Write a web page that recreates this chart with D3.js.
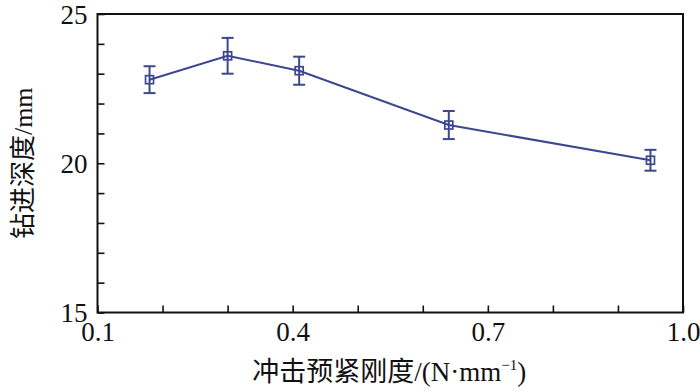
<!DOCTYPE html>
<html><head><meta charset="utf-8">
<script src="https://cdn.jsdelivr.net/npm/d3@7"></script>
<style>
html,body{margin:0;padding:0;background:#fff;}
svg{display:block;}
text{font-family:"Liberation Serif","Times New Roman","Noto Sans CJK SC",serif;fill:#111;}
</style></head>
<body>
<svg id="chart" width="700" height="391"></svg>
<script>
const stiffness = [0.18, 0.30, 0.41, 0.64, 0.95];
const depth     = [22.8, 23.6, 23.1, 21.28, 20.1];
const errors    = [0.45, 0.6, 0.47, 0.47, 0.35];
const xTicks = [0.1, 0.4, 0.7, 1.0];
const yTicks = [15, 20, 25];
const xMinor = [0.1,0.2,0.3,0.4,0.5,0.6,0.7,0.8,0.9,1.0];
const yMinor = [15,16,17,18,19,20,21,22,23,24,25];
const xTitle = "冲击预紧刚度/(N·mm";
const yTitle = "钻进深度/mm";

const W = 700, H = 391;
const m = {left: 97.5, top: 14, right: 700-683, bottom: 391-312.5};
const svg = d3.select("#chart");
const x = d3.scaleLinear().domain([0.1, 1.0]).range([m.left, W - m.right]);
const y = d3.scaleLinear().domain([15, 25]).range([H - m.bottom, m.top]);
const color = "#3c4790";

// frame
svg.append("rect").attr("x", x(0.1)).attr("y", y(25))
  .attr("width", x(1.0) - x(0.1)).attr("height", y(15) - y(25))
  .attr("fill", "none").attr("stroke", "#111").attr("stroke-width", 2);

// bottom axis (ticks inward)
const gx = svg.append("g").attr("transform", `translate(0,${y(15)})`)
  .call(d3.axisBottom(x).tickValues(xMinor).tickSize(-7).tickFormat(""));
gx.select(".domain").remove();
gx.selectAll("line").attr("stroke", "#111").attr("stroke-width", 1.6);
const gxl = svg.append("g").attr("transform", `translate(0,${y(15)})`)
  .call(d3.axisBottom(x).tickValues(xTicks).tickSize(0).tickPadding(9).tickFormat(d3.format(".1f")));
gxl.select(".domain").remove();
gxl.selectAll("text").attr("font-size", 27).attr("dy", "0.71em");

// left axis
const gy = svg.append("g").attr("transform", `translate(${x(0.1)},0)`)
  .call(d3.axisLeft(y).tickValues(yMinor).tickSize(-7).tickFormat(""));
gy.select(".domain").remove();
gy.selectAll("line").attr("stroke", "#111").attr("stroke-width", 1.6);
const gyl = svg.append("g").attr("transform", `translate(${x(0.1)},0)`)
  .call(d3.axisLeft(y).tickValues(yTicks).tickSize(0).tickPadding(10).tickFormat(d3.format("d")));
gyl.select(".domain").remove();
gyl.selectAll("text").attr("font-size", 27).attr("dy", "0.34em");

// line
const data = stiffness.map((s, i) => ({x: s, y: depth[i], e: errors[i]}));
svg.append("path").datum(data)
  .attr("d", d3.line().x(d => x(d.x)).y(d => y(d.y)))
  .attr("fill", "none").attr("stroke", color).attr("stroke-width", 2);

// error bars
const eb = svg.append("g").attr("stroke", color).attr("stroke-width", 2).attr("fill", "none");
const cap = 6;
data.forEach(d => {
  const cx = x(d.x);
  eb.append("line").attr("x1", cx).attr("x2", cx).attr("y1", y(d.y + d.e)).attr("y2", y(d.y - d.e));
  eb.append("line").attr("x1", cx - cap).attr("x2", cx + cap).attr("y1", y(d.y + d.e)).attr("y2", y(d.y + d.e));
  eb.append("line").attr("x1", cx - cap).attr("x2", cx + cap).attr("y1", y(d.y - d.e)).attr("y2", y(d.y - d.e));
  const s = 8;
  eb.append("rect").attr("x", cx - s/2).attr("y", y(d.y) - s/2).attr("width", s).attr("height", s)
    .attr("stroke-width", 1.7);
});

// titles
const xt = svg.append("text").attr("x", (x(0.1) + x(1.0)) / 2 - 1).attr("y", 381)
  .attr("text-anchor", "middle").attr("font-size", 27);
xt.append("tspan").text(xTitle);
xt.append("tspan").text("−1").attr("font-size", 15).attr("dy", -11);
xt.append("tspan").text(")").attr("dy", 11);

svg.append("text").attr("transform", `translate(32,${(y(15) + y(25)) / 2}) rotate(-90)`)
  .attr("text-anchor", "middle").attr("font-size", 26).text(yTitle);
</script>
</body></html>
